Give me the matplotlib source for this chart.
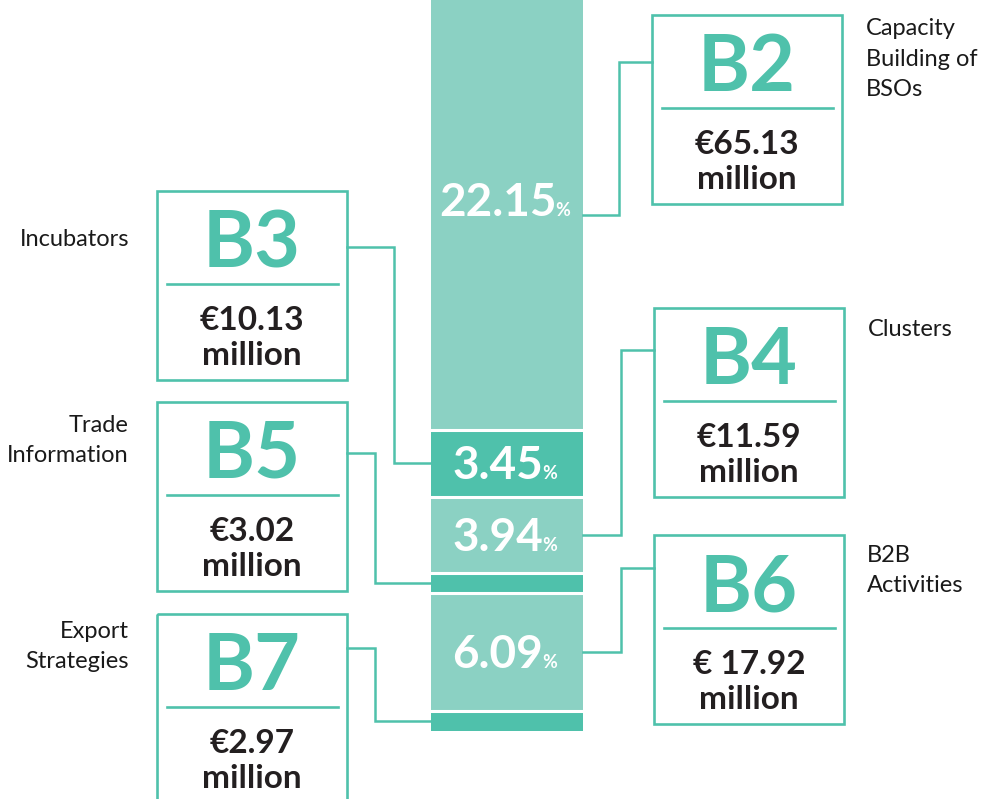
import matplotlib
matplotlib.use('Agg')
import matplotlib.pyplot as plt
from matplotlib.patches import Rectangle

plt.rcParams['font.family'] = ['Lato', 'DejaVu Sans']

# data
codes = ['B2', 'B3', 'B4', 'B5', 'B6', 'B7']
names = [['Capacity', 'Building of', 'BSOs'], ['Incubators'], ['Clusters'],
         ['Trade', 'Information'], ['B2B', 'Activities'], ['Export', 'Strategies']]
amount_labels = ['€65.13', '€10.13', '€11.59', '€3.02', '€ 17.92', '€2.97']
shares = [22.15, 3.45, 3.94, 1.03, 6.09, 1.01]   # % of total, top to bottom

TEAL = '#4fc1ab'
LIGHT = '#8bd1c3'
DARK = '#231f20'
seg_colors = [LIGHT, TEAL, LIGHT, TEAL, LIGHT, TEAL]

# layout (pixels, origin top-left)
W, H = 1002, 799
bar_left, bar_right, bar_bottom = 431, 583, 730.7
box_w, box_h = 190, 189
sides = ['r', 'l', 'r', 'l', 'r', 'l']
box_xy = [(652, 15), (157, 191), (654, 308), (157, 402), (654, 535), (157, 614)]
attach_y = [62, 247, 350, 453, 568, 648]
elbow_x = [619, 394, 621, 375.5, 621, 375.5]
name_xy = [(866, 35), (129, 246), (868, 336), (129, 432), (867, 562), (129, 638)]
pct_dy = [-15, 0, 0, 0, 0, 0]
LINE_GAP = 30.5

fig = plt.figure(figsize=(W / 100, H / 100), dpi=100)

# stacked bar in its own axes
axb = fig.add_axes([bar_left / W, 1 - bar_bottom / H, (bar_right - bar_left) / W, bar_bottom / H])
total = sum(shares)
axb.set_xlim(0, 1)
axb.set_ylim(total, 0)
axb.axis('off')
bottoms = [sum(shares[:i]) for i in range(len(shares))]
axb.bar(0.5, shares, width=1, bottom=bottoms, color=seg_colors, linewidth=0)
for b in bottoms[1:]:
    axb.axhline(b, color='white', lw=2.2)

# overlay axes in pixel units for boxes, connectors and text
ax = fig.add_axes([0, 0, 1, 1])
ax.set_xlim(0, W)
ax.set_ylim(H, 0)
ax.axis('off')
ax.set_zorder(2)

def to_px(y):
    # bar data value -> pixel y in the overlay axes
    disp = axb.transData.transform((0.5, y))
    return ax.transData.inverted().transform(disp)[1]

bar_cx = (bar_left + bar_right) / 2
for i, code in enumerate(codes):
    seg_y = to_px(bottoms[i] + shares[i] / 2)
    bx, by = box_xy[i]

    # percentage label
    if shares[i] > 2:
        base = seg_y + 16 + pct_dy[i]
        t = ax.text(bar_cx - 9, base, f'{shares[i]:.2f}', ha='center', va='baseline',
                    color='white', fontsize=33, fontweight='bold')
        ax.annotate('%', xy=(1, base), xycoords=(t, 'data'), xytext=(-1, 0),
                    textcoords='offset points', ha='left', va='baseline',
                    color='white', fontsize=13, fontweight='bold')

    # box
    ax.add_patch(Rectangle((bx, by), box_w, box_h, fill=False, ec=TEAL, lw=1.9,
                           joinstyle='miter'))
    ax.plot([bx + 10, bx + box_w - 9], [by + 93, by + 93], color=TEAL, lw=1.9)
    cx = bx + box_w / 2
    ax.text(cx, by + 76, code, ha='center', va='baseline', color=TEAL,
            fontsize=57, fontweight='bold')
    ax.text(cx, by + 139, amount_labels[i], ha='center', va='baseline', color=DARK,
            fontsize=24, fontweight='bold')
    ax.text(cx, by + 174, 'million', ha='center', va='baseline', color=DARK,
            fontsize=24, fontweight='bold')

    # connector
    if sides[i] == 'r':
        xs = [bar_right, elbow_x[i], elbow_x[i], bx]
    else:
        xs = [bar_left, elbow_x[i], elbow_x[i], bx + box_w]
    ys = [seg_y, seg_y, attach_y[i], attach_y[i]]
    ax.plot(xs, ys, color=TEAL, lw=1.8, solid_joinstyle='miter')

    # category name
    nx, ny = name_xy[i]
    for j, line in enumerate(names[i]):
        ax.text(nx, ny + j * LINE_GAP, line, ha='left' if sides[i] == 'r' else 'right',
                va='baseline', color='#1a1a1a', fontsize=17)

plt.savefig('out.png', dpi=100)
